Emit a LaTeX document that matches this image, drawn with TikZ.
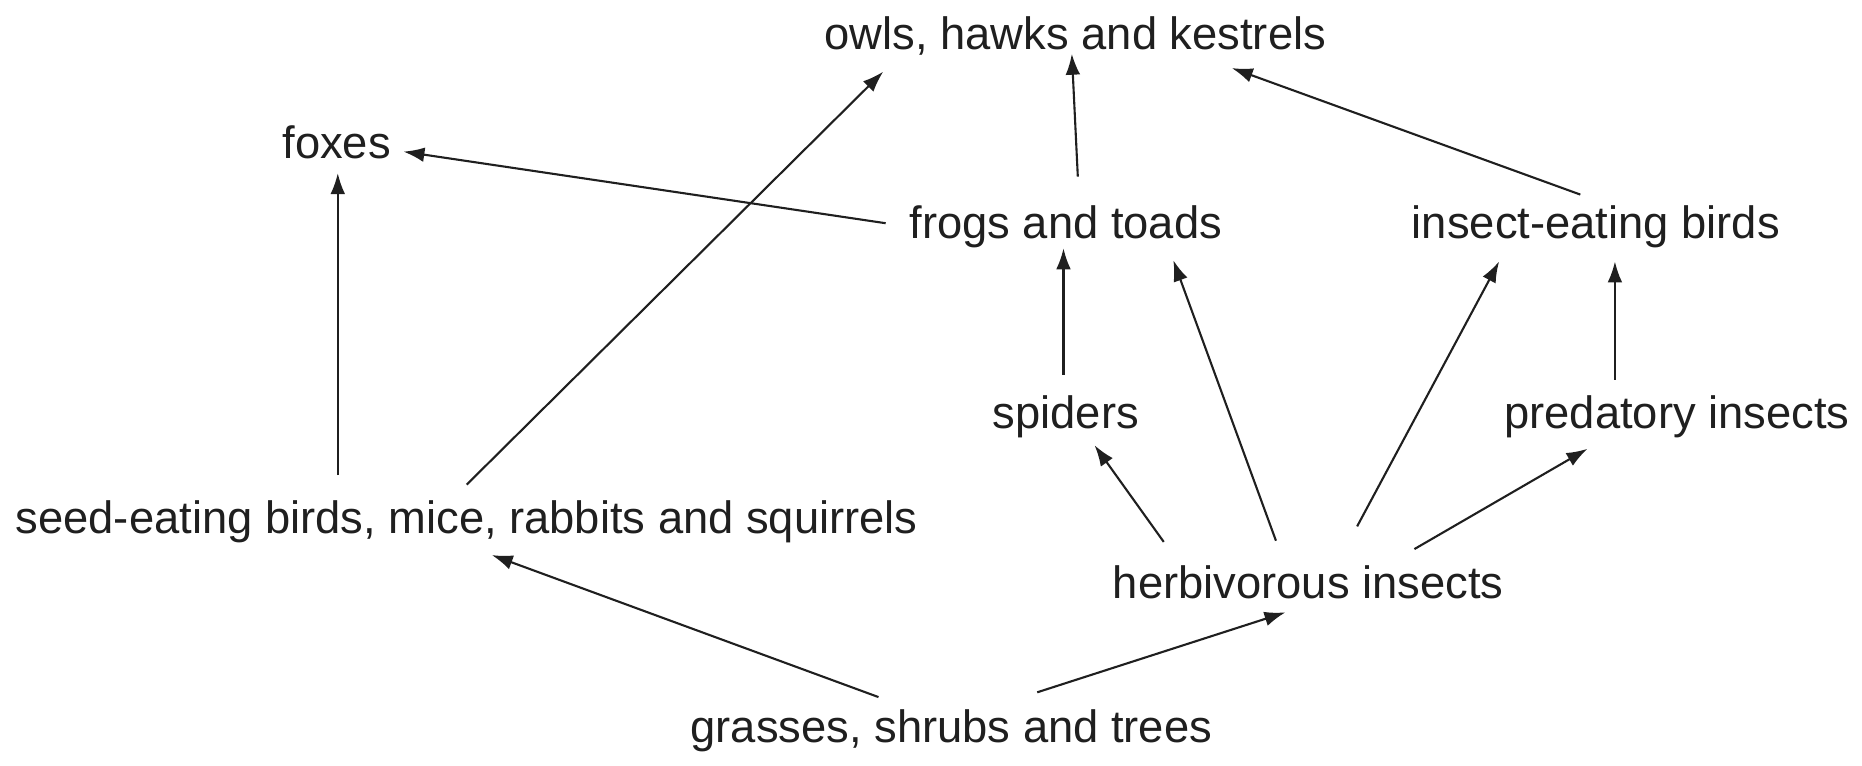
\documentclass[tikz,border=0pt]{standalone}
\usepackage{fontspec}
\setmainfont{Liberation Sans}
\usetikzlibrary{calc,arrows.meta}
\begin{document}
\begin{tikzpicture}[x=0.01cm,y=-0.01cm,
  lbl/.style={font=\fontsize{10.8pt}{12pt}\selectfont,text=black!88,inner sep=0pt},
  arr/.style={-{Latex[length=5pt,width=3.5pt]},line width=0.5pt,black!88}]
\useasboundingbox (0,0) rectangle (1560,641);
\node[lbl] (owls) at (901,30) {owls, hawks and kestrels};
\node[lbl] (fox) at (282,119) {foxes};
\node[lbl] (frog) at (893,190) {frogs and toads};
\node[lbl] (ieb) at (1337,190) {insect-eating birds};
\node[lbl] (spi) at (893,349) {spiders};
\node[lbl] (pred) at (1405,349) {predatory insects};
\node[lbl] (seed) at (391,437) {seed-eating birds, mice, rabbits and squirrels};
\node[lbl] (herb) at (1096,488) {herbivorous insects};
\node[lbl] (gras) at (797,612) {grasses, shrubs and trees};
\draw[arr] ($(seed)+(0,-31)$) -- ($(owls)+(-161,30)$);
\draw[arr] ($(seed)+(-108,-39)$) -- ($(fox)+(1,26)$);
\draw[arr] ($(frog)+(-151,-3)$) -- ($(fox)+(56,8)$);
\draw[arr] ($(frog)+(10,-42)$) -- ($(owls)+(-3,15)$);
\draw[arr] ($(ieb)+(-13,-27)$) -- ($(owls)+(131,27)$);
\draw[arr] ($(spi)+(-2,-35)$) -- ($(frog)+(-2,18)$);
\draw[arr] ($(herb)+(-121,-34)$) -- ($(spi)+(24,24)$);
\draw[arr] ($(herb)+(-27,-35)$) -- ($(frog)+(90,28)$);
\draw[arr] ($(herb)+(41,-47)$) -- ($(ieb)+(-81,29)$);
\draw[arr] ($(herb)+(89,-28)$) -- ($(pred)+(-75,27)$);
\draw[arr] ($(pred)+(-52,-31)$) -- ($(ieb)+(16,29)$);
\draw[arr] ($(gras)+(-61,-28)$) -- ($(seed)+(21,28)$);
\draw[arr] ($(gras)+(72,-32)$) -- ($(herb)+(-19,25)$);
\end{tikzpicture}
\end{document}
